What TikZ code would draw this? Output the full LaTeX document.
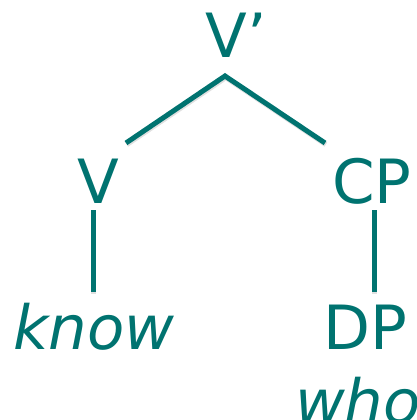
\documentclass[tikz,border=0pt]{standalone}
\usepackage{fontspec}
\setmainfont{DejaVu Sans}
\usepackage{xcolor}
\usetikzlibrary{positioning}
\definecolor{treeteal}{RGB}{0,115,112}

\begin{document}
\begin{tikzpicture}[x=1pt,y=-1pt,
    lbl/.style={text=treeteal, font=\fontsize{61}{61}\selectfont, inner sep=0, anchor=base},
    word/.style={lbl, font=\fontsize{61}{61}\selectfont\itshape},
    branch/.style={draw=treeteal, line width=5pt,
      preaction={draw=black!12, line width=5pt, transform canvas={shift={(0.8pt,-1.6pt)}}}}]
  \useasboundingbox (0,0) rectangle (416,420);
  %% Labels
  \node[lbl]  (Vbar) at (236,57)  {V’};
  \node[lbl]  (V)    at (98,203)  {V};
  \node[lbl]  (CP)   at (372,203) {CP};
  \node[word] (know) at (94,349)  {know};
  \node[lbl]  (DP)   at (365,349) {DP};
  \node[word] (who)  at (358,423) {who};
  %% Branch ends
  \coordinate (apex) at (225,76);
  \coordinate (vtop) at (126,143);
  \coordinate (cptop) at (325,143);
  \coordinate (vlo) at (93,210);
  \coordinate (knowtop) at (93,292);
  \coordinate (cplo) at (374,210);
  \coordinate (dptop) at (374,292);
  %% Branches
  \draw[branch] (vtop) -- (apex) -- (cptop);
  \draw[branch] (vlo) -- (knowtop);
  \draw[branch] (cplo) -- (dptop);
\end{tikzpicture}
\end{document}
